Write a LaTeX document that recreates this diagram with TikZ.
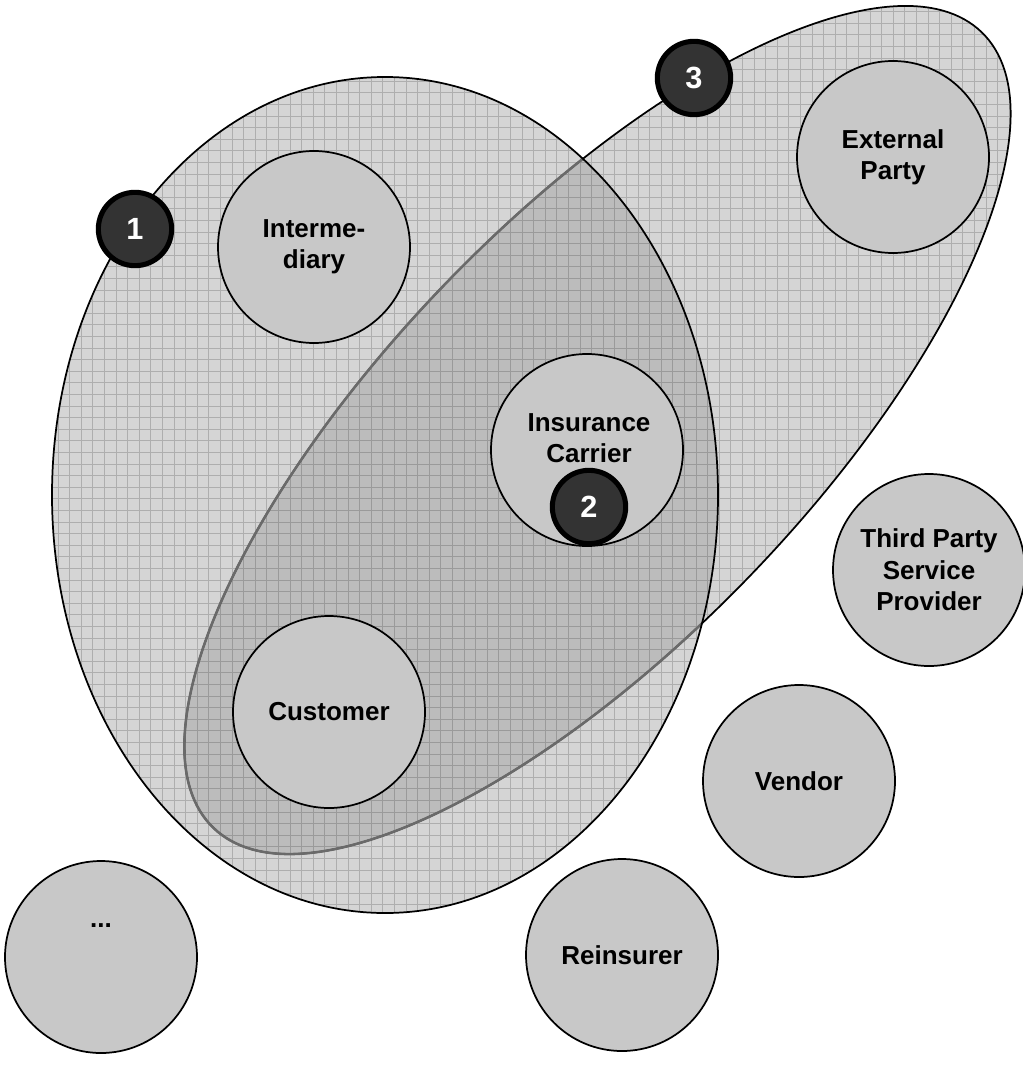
\documentclass[tikz,border=0pt]{standalone}
\usepackage{fontspec}
\setmainfont{Liberation Sans}
\usetikzlibrary{calc}

\definecolor{paleBase}{HTML}{D5D5D5}
\definecolor{paleLine}{HTML}{AEAEAE}
\definecolor{deepBase}{HTML}{BCBCBC}
\definecolor{deepLine}{HTML}{9A9A9A}
\definecolor{discFill}{HTML}{C8C8C8}
\definecolor{badgeFill}{HTML}{333333}
\definecolor{rimGray}{HTML}{6A6A6A}

% fine square mesh laid over a filled region
\newcommand{\meshlines}[1]{%
  \foreach \gx in {0,11.6,...,1030} {\draw[#1, line width=0.65pt] (\gx,0) -- (\gx,1077);}
  \foreach \gy in {0,11.6,...,1080} {\draw[#1, line width=0.65pt] (0,\gy) -- (1023,\gy);}%
}
% outline of the large upright ellipse
\newcommand{\bigoval}{(385,495) ellipse [x radius=333, y radius=418]}
% outline of the slanted ellipse
\newcommand{\slantoval}{[rotate around={46:(597.5,430)}] (597.5,430) ellipse [x radius=553, y radius=211]}

\begin{document}
\begin{tikzpicture}[x=0.75pt, y=-0.75pt,
  disc/.style={circle, draw=black, line width=1.3pt, fill=discFill,
    minimum size=144pt, inner sep=0pt, align=center,
    font=\fontsize{19.5}{23.5}\selectfont\bfseries},
  caption/.style={align=center, inner sep=0pt,
    font=\fontsize{19.5}{23.5}\selectfont\bfseries},
  badge/.style={circle, draw=black, line width=3.8pt, fill=badgeFill,
    minimum size=55pt, inner sep=0pt, text=white,
    font=\fontsize{23}{27}\selectfont\bfseries}]

\useasboundingbox (0,0) rectangle (1023,1077);

% slanted ellipse: mesh fill
\begin{scope}
  \clip \slantoval;
  \fill[paleBase] (0,0) rectangle (1023,1077);
  \meshlines{paleLine}
\end{scope}

% upright ellipse: mesh fill
\begin{scope}
  \clip \bigoval;
  \fill[paleBase] (0,0) rectangle (1023,1077);
  \meshlines{paleLine}
\end{scope}

% overlap of both ellipses: darker mesh
\begin{scope}
  \clip \bigoval;
  \clip \slantoval;
  \fill[deepBase] (0,0) rectangle (1023,1077);
  \meshlines{deepLine}
\end{scope}

% outlines
\draw[black, line width=1.3pt] \slantoval;
\begin{scope}
  \clip \bigoval;
  \draw[rimGray, line width=1.9pt] \slantoval;
\end{scope}
\draw[black, line width=1.3pt] \bigoval;

% parties
\node[disc] (intermediary) at (314,247) {Interme-\\diary};
\node[disc] (external) at (893,157) {External\\Party};
\node[disc] (carrier) at (587,450) {};
\node[caption] (carriertext) at (589,438) {Insurance\\Carrier};
\node[disc] (customer) at (329,712) {Customer};
\node[disc] (thirdparty) at (929,570) {Third Party\\Service\\Provider};
\node[disc] (vendor) at (799,781) {Vendor};
\node[disc] (reinsurer) at (622,955) {Reinsurer};
\node[disc] (others) at (101,957) {};
\node[caption] (otherstext) at (101,926) {...};

% numbered markers
\node[badge] (one) at (135,229) {1};
\node[badge] (two) at (589,507) {2};
\node[badge] (three) at (694,78) {3};

\end{tikzpicture}
\end{document}
